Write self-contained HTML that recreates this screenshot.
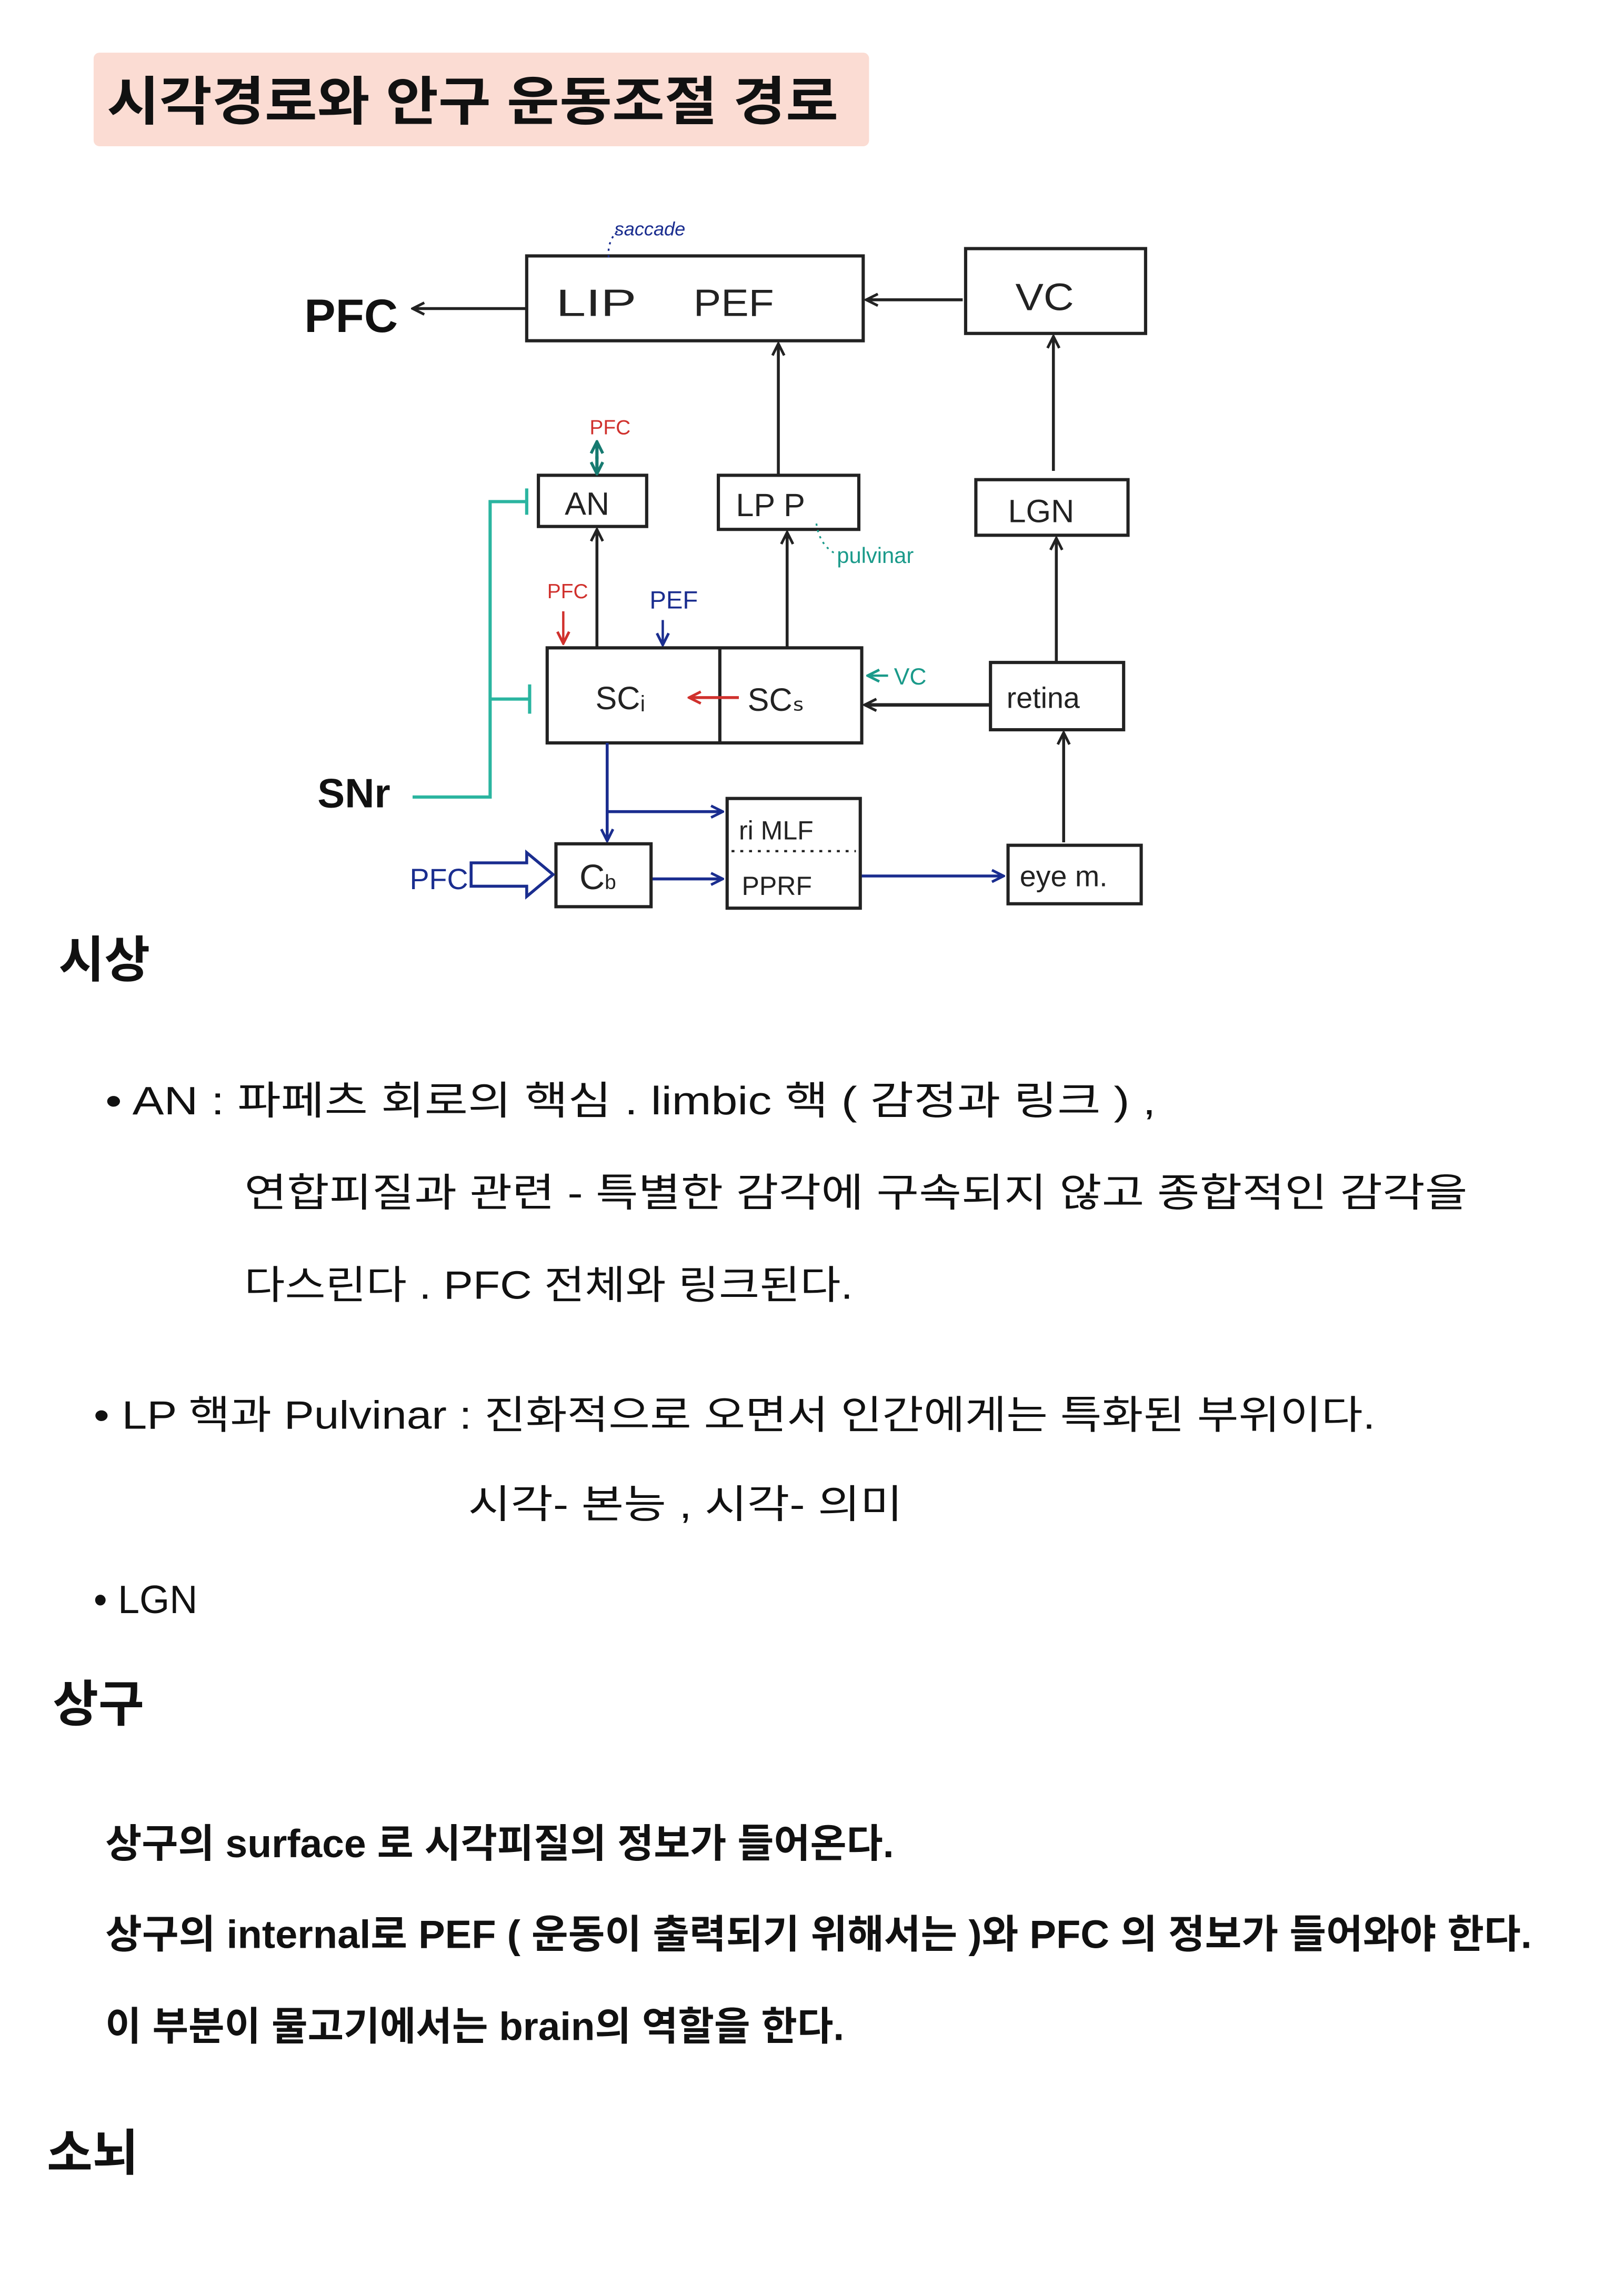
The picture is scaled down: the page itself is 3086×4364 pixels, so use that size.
<!DOCTYPE html>
<html><head><meta charset="utf-8"><style>
html,body{margin:0;padding:0;background:#fff}
svg{display:block}
text{font-family:"Liberation Sans","Noto Sans CJK KR",sans-serif}
</style></head><body>
<svg width="3086" height="4364" viewBox="0 0 1110 1570" preserveAspectRatio="none" xmlns="http://www.w3.org/2000/svg">
<defs>
<marker id="ak" markerWidth="10" markerHeight="10" refX="9" refY="5" orient="auto" markerUnits="userSpaceOnUse"><path d="M1,1 L9,5 L1,9" fill="none" stroke="#222" stroke-width="1.8"/></marker>
<marker id="ab" markerWidth="10" markerHeight="10" refX="9" refY="5" orient="auto" markerUnits="userSpaceOnUse"><path d="M1,1 L9,5 L1,9" fill="none" stroke="#1a2d8f" stroke-width="1.8"/></marker>
<marker id="ar" markerWidth="10" markerHeight="10" refX="9" refY="5" orient="auto" markerUnits="userSpaceOnUse"><path d="M1,1 L9,5 L1,9" fill="none" stroke="#d0312d" stroke-width="1.8"/></marker>
<marker id="at" markerWidth="10" markerHeight="10" refX="9" refY="5" orient="auto" markerUnits="userSpaceOnUse"><path d="M1,1 L9,5 L1,9" fill="none" stroke="#1a9a8a" stroke-width="1.8"/></marker>
<marker id="at2" markerWidth="10" markerHeight="10" refX="9" refY="5" orient="auto" markerUnits="userSpaceOnUse"><path d="M1,1 L9,5 L1,9" fill="none" stroke="#167a70" stroke-width="2"/></marker>
</defs>
<rect x="64" y="36" width="530" height="64" rx="4" fill="#fbdcd3"/>
<text x="73" y="82" font-size="36" font-weight="bold" fill="#111" textLength="500" lengthAdjust="spacingAndGlyphs">시각경로와 안구 운동조절 경로</text>

<g fill="none" stroke="#222" stroke-width="2.2">
<rect x="360" y="175" width="230" height="58"/>
<rect x="660" y="170" width="123" height="58"/>
<rect x="368" y="325" width="74" height="35"/>
<rect x="491" y="325" width="96" height="37"/>
<rect x="667" y="328" width="104" height="38"/>
<rect x="374" y="443" width="215" height="65"/>
<line x1="492" y1="443" x2="492" y2="508"/>
<rect x="677" y="453" width="91" height="46"/>
<rect x="497" y="546" width="91" height="75"/>
<rect x="380" y="577" width="65" height="43"/>
<rect x="689" y="578" width="91" height="40"/>
</g>
<line x1="500" y1="582" x2="585" y2="582" stroke="#222" stroke-width="1.5" stroke-dasharray="2,4"/>
<g stroke="#222" stroke-width="2" fill="none">
<line x1="360" y1="211" x2="282" y2="211" marker-end="url(#ak)"/>
<line x1="658" y1="205" x2="592" y2="205" marker-end="url(#ak)"/>
<line x1="532" y1="325" x2="532" y2="235" marker-end="url(#ak)"/>
<line x1="720" y1="322" x2="720" y2="230" marker-end="url(#ak)"/>
<line x1="408" y1="443" x2="408" y2="362" marker-end="url(#ak)"/>
<line x1="538" y1="443" x2="538" y2="364" marker-end="url(#ak)"/>
<line x1="722" y1="453" x2="722" y2="368" marker-end="url(#ak)"/>
<line x1="677" y1="482" x2="591" y2="482" marker-end="url(#ak)" stroke-width="2.4"/>
<line x1="727" y1="576" x2="727" y2="501" marker-end="url(#ak)"/>
</g>
<path d="M416,176 Q415,165 422,158" stroke="#1a2d8f" stroke-width="1.2" stroke-dasharray="1.5,3" fill="none"/>
<text x="420" y="161" font-size="13" fill="#1a2d8f" font-style="italic">saccade</text>
<g font-size="26" fill="#222">
<text x="380" y="216" textLength="55" lengthAdjust="spacingAndGlyphs">LIP</text>
<text x="474" y="216" textLength="55" lengthAdjust="spacingAndGlyphs">PEF</text>
<text x="694" y="212" textLength="40" lengthAdjust="spacingAndGlyphs">VC</text>
<text x="386" y="352" font-size="22">AN</text>
<text x="503" y="353" font-size="22">LP  P</text>
<text x="689" y="357" font-size="22">LGN</text>
<text x="407" y="485" font-size="22">SCᵢ</text>
<text x="511" y="486" font-size="22">SCₛ</text>
<text x="688" y="484" font-size="20">retina</text>
<text x="505" y="574" font-size="18">ri MLF</text>
<text x="507" y="612" font-size="18">PPRF</text>
<text x="396" y="608" font-size="24">C<tspan font-size="14">b</tspan></text>
<text x="697" y="606" font-size="20">eye  m.</text>
</g>
<text x="208" y="227" font-size="32" font-weight="bold" fill="#111">PFC</text>
<text x="217" y="552" font-size="28" font-weight="bold" fill="#111">SNr</text>
<text x="403" y="297" font-size="14" fill="#d0312d">PFC</text>
<line x1="408" y1="312" x2="408" y2="324" stroke="#167a70" stroke-width="2.2" marker-end="url(#at2)"/>
<line x1="408" y1="314" x2="408" y2="302" stroke="#167a70" stroke-width="2.2" marker-end="url(#at2)"/>
<text x="374" y="409" font-size="14" fill="#d0312d">PFC</text>
<line x1="385" y1="418" x2="385" y2="440" stroke="#d0312d" stroke-width="1.6" marker-end="url(#ar)"/>
<text x="444" y="416" font-size="17" fill="#1a2d8f">PEF</text>
<line x1="453" y1="424" x2="453" y2="441" stroke="#1a2d8f" stroke-width="1.6" marker-end="url(#ab)"/>
<line x1="505" y1="477" x2="471" y2="477" stroke="#d0312d" stroke-width="2" marker-end="url(#ar)"/>
<line x1="607" y1="462" x2="593" y2="462" stroke="#1a9a8a" stroke-width="1.6" marker-end="url(#at)"/>
<text x="611" y="468" font-size="16" fill="#1a9a8a">VC</text>
<path d="M558,358 Q560,372 570,378" stroke="#1a9a8a" stroke-width="1.2" stroke-dasharray="1.5,3" fill="none"/>
<text x="572" y="385" font-size="15" fill="#1a9a8a">pulvinar</text>
<g stroke="#2bb5a0" stroke-width="2.2" fill="none">
<polyline points="282,545 335,545 335,343 360,343"/>
<line x1="360" y1="334" x2="360" y2="352"/>
<line x1="335" y1="478" x2="362" y2="478"/>
<line x1="362" y1="468" x2="362" y2="488"/>
</g>
<g stroke="#1a2d8f" stroke-width="2" fill="none">
<line x1="415" y1="508" x2="415" y2="575" marker-end="url(#ab)"/>
<line x1="415" y1="555" x2="494" y2="555" marker-end="url(#ab)"/>
<line x1="446" y1="601" x2="494" y2="601" marker-end="url(#ab)"/>
<line x1="589" y1="599" x2="686" y2="599" marker-end="url(#ab)"/>
<path d="M322,590 L360,590 L360,583 L378,598 L360,613 L360,606 L322,606 Z"/>
</g>
<text x="280" y="608" font-size="20" fill="#1a2d8f">PFC</text>

<g fill="#111">
<text x="40" y="668" font-size="34" font-weight="bold">시상</text>
<g font-size="27">
<text x="72" y="762" textLength="718" lengthAdjust="spacingAndGlyphs">• AN :  파페츠 회로의 핵심 . limbic  핵 ( 감정과 링크 ) ,</text>
<text x="167" y="825" textLength="836" lengthAdjust="spacingAndGlyphs">연합피질과 관련 - 특별한 감각에 구속되지 않고 종합적인 감각을</text>
<text x="167" y="888" textLength="416" lengthAdjust="spacingAndGlyphs">다스린다 . PFC 전체와 링크된다.</text>
<text x="64" y="977" textLength="876" lengthAdjust="spacingAndGlyphs">• LP 핵과 Pulvinar : 진화적으로 오면서 인간에게는 특화된 부위이다.</text>
<text x="320" y="1038" textLength="297" lengthAdjust="spacingAndGlyphs">시각- 본능 , 시각- 의미</text>
<text x="64" y="1103" textLength="71" lengthAdjust="spacingAndGlyphs">• LGN</text>
</g>
<text x="36" y="1177" font-size="34" font-weight="bold">상구</text>
<g font-size="27" font-weight="bold">
<text x="72" y="1270" textLength="539" lengthAdjust="spacingAndGlyphs">상구의 surface 로  시각피질의 정보가 들어온다.</text>
<text x="72" y="1332" textLength="975" lengthAdjust="spacingAndGlyphs">상구의 internal로  PEF ( 운동이 출력되기 위해서는 )와 PFC 의   정보가 들어와야 한다.</text>
<text x="72" y="1395" textLength="505" lengthAdjust="spacingAndGlyphs">이 부분이 물고기에서는 brain의 역할을 한다.</text>
</g>
<text x="32" y="1484" font-size="34" font-weight="bold">소뇌</text>
</g>
</svg>
</body></html>
